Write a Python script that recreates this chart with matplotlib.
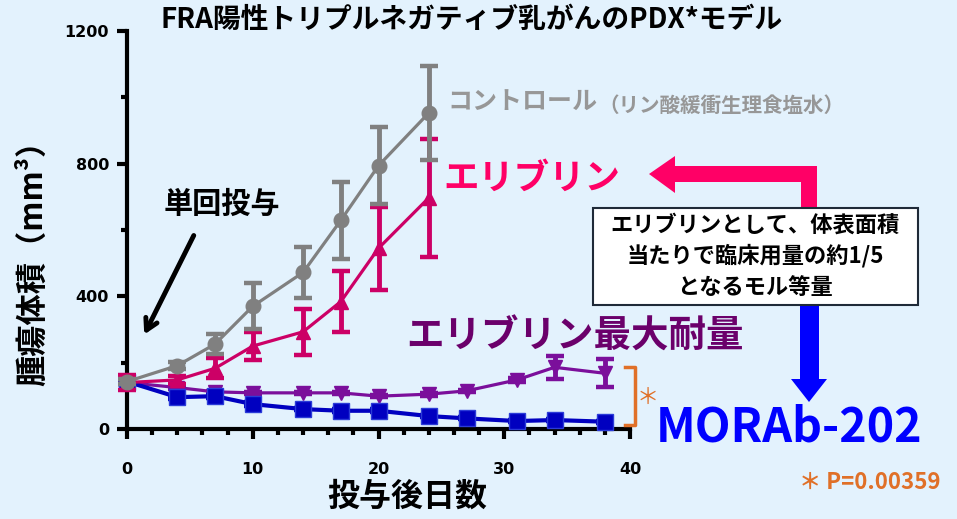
import matplotlib
matplotlib.use("Agg")
import matplotlib.pyplot as plt
from matplotlib.patches import Polygon, Rectangle
from matplotlib.lines import Line2D
from matplotlib.ticker import MultipleLocator

plt.rcParams['font.family'] = ['Noto Sans CJK JP', 'DejaVu Sans']

# ---- data ----
days_short = [0, 4, 7, 10, 14, 17, 20, 24]
days_long = [0, 4, 7, 10, 14, 17, 20, 24, 27, 31, 34, 38]

control_mean = [143, 191, 256, 370, 472, 629, 794, 953]
control_err = [8, 10, 30, 69, 78, 117, 117, 142]

eribulin_mean = [140, 148, 183, 250, 293, 384, 545, 697]
eribulin_err = [22, 12, 30, 42, 70, 93, 125, 177]

mtd_mean = [140, 125, 112, 109, 109, 109, 99, 105, 115, 148, 186, 168]
mtd_err = [4, 4, 4, 4, 4, 4, 4, 4, 4, 5, 35, 42]

morab_mean = [143, 96, 99, 75, 60, 55, 55, 39, 32, 24, 27, 22]
morab_err = [8, 5, 5, 5, 4, 4, 4, 4, 3, 3, 3, 3]

x_ticks = [0, 10, 20, 30, 40]
y_ticks = [0, 400, 800, 1200]

BG = '#e3f2fd'
W, H = 957, 519

def fx(x):
    return x / W

def fy(y):
    return 1 - y / H

fig = plt.figure(figsize=(9.57, 5.19), dpi=100, facecolor=BG)
ax = fig.add_axes([fx(127), fy(429), fx(630) - fx(127), fy(31) - fy(429)])
ax.set_facecolor(BG)
ax.patch.set_alpha(0)

common = dict(capsize=6.5, capthick=3.2, elinewidth=3.5, clip_on=False)

ax.errorbar(days_long, mtd_mean, yerr=mtd_err, color='#7b0f9b', lw=2.3,
            marker='v', ms=10, zorder=3, **common)
ax.errorbar(days_long, morab_mean, yerr=morab_err, color='#0000c0', lw=3,
            marker='s', ms=11.5, mec='#2b3bd8', zorder=4, **common)
ax.errorbar(days_short, eribulin_mean, yerr=eribulin_err, color='#cc0066', lw=2.3,
            marker='^', ms=10, zorder=5, **common)
ax.errorbar(days_short, control_mean, yerr=control_err, color='#808080', lw=2.3,
            marker='o', ms=10.5, zorder=6, **common)

ax.set_xlim(0, 40)
ax.set_ylim(0, 1200)
ax.set_xticks(x_ticks)
ax.set_yticks(y_ticks)
ax.xaxis.set_minor_locator(MultipleLocator(2))
ax.yaxis.set_minor_locator(MultipleLocator(200))
for s in ['top', 'right']:
    ax.spines[s].set_visible(False)
for s in ['left', 'bottom']:
    ax.spines[s].set_linewidth(3)
    ax.spines[s].set_color('black')
ax.tick_params(axis='both', which='major', length=7, width=3, color='black')
ax.tick_params(axis='both', which='minor', length=4, width=3, color='black')
ax.tick_params(axis='x', which='major', pad=17)
ax.tick_params(axis='y', which='major', pad=6)
for lab in ax.get_xticklabels() + ax.get_yticklabels():
    lab.set_fontfamily('DejaVu Sans')
    lab.set_fontweight('bold')
    lab.set_fontsize(11.5)

# axis labels
fig.text(fx(33), fy(255), '腫瘍体積（mm³）', rotation=90, ha='center', va='center',
         fontsize=22.5, fontweight='bold', color='black')
fig.text(fx(407), fy(497), '投与後日数', ha='center', va='center',
         fontsize=23, fontweight='bold', color='black')

# title
fig.text(fx(472), fy(20), 'FRA陽性トリプルネガティブ乳がんのPDX*モデル', ha='center', va='center',
         fontsize=20, fontweight='bold', color='black')

# single dose annotation
fig.text(fx(222), fy(204), '単回投与', ha='center', va='center',
         fontsize=21, fontweight='bold', color='black')
ax.annotate('', xy=(fx(143), fy(337)), xycoords='figure fraction',
            xytext=(fx(195), fy(233)), textcoords='figure fraction',
            arrowprops=dict(arrowstyle='->,head_length=0.8,head_width=0.45', lw=3.5, color='black'))

# series labels
fig.text(fx(447), fy(103), 'コントロール', ha='left', va='center',
         fontsize=18, fontweight='bold', color='#979797')
fig.text(fx(598), fy(105), '（リン酸緩衝生理食塩水）', ha='left', va='center',
         fontsize=14.8, fontweight='bold', color='#979797')
fig.text(fx(532), fy(178), 'エリブリン', ha='center', va='center',
         fontsize=25.5, fontweight='bold', color='#ff0066')
fig.text(fx(575), fy(336), 'エリブリン最大耐量', ha='center', va='center',
         fontsize=27, fontweight='bold', color='#6b006b')
fig.text(fx(789), fy(428), 'MORAb-202', ha='center', va='center',
         fontsize=33.5, fontweight='bold', color='#0000ff')

# pink arrow
pink_pts = [(817, 208), (817, 166), (675, 166), (675, 156), (649, 174), (675, 193),
            (675, 182), (801, 182), (801, 208)]
fig.patches.append(Polygon([(fx(a), fy(b)) for a, b in pink_pts], closed=True,
                           transform=fig.transFigure, facecolor='#ff0066', edgecolor='none', zorder=5))
# blue arrow
blue_pts = [(800, 304), (819, 304), (819, 379), (827, 379), (809, 402), (791, 379), (800, 379)]
fig.patches.append(Polygon([(fx(a), fy(b)) for a, b in blue_pts], closed=True,
                           transform=fig.transFigure, facecolor='#0000ff', edgecolor='none', zorder=5))
# box
fig.patches.append(Rectangle((fx(593), fy(305)), fx(918) - fx(593), fy(208) - fy(305),
                             transform=fig.transFigure, facecolor='white', edgecolor='#1f2a38',
                             lw=1.5, zorder=6))
for txt, yy in [('エリブリンとして、体表面積', 225), ('当たりで臨床用量の約1/5', 256), ('となるモル等量', 287)]:
    fig.text(fx(755), fy(yy), txt, ha='center', va='center', fontsize=16,
             fontweight='bold', color='black', zorder=7)

# significance bracket
ORANGE = '#e07028'
fig.add_artist(Line2D([fx(625), fx(635), fx(635), fx(625)], [fy(367), fy(367), fy(425), fy(425)],
                      transform=fig.transFigure, color=ORANGE, lw=2.5))
fig.text(fx(648), fy(397), '＊', ha='center', va='center', fontsize=16, color=ORANGE)
fig.text(fx(870), fy(482), '＊ P=0.00359', ha='center', va='center', fontsize=16,
         fontweight='bold', color=ORANGE)

fig.savefig('out.png', dpi=100, facecolor=BG)
